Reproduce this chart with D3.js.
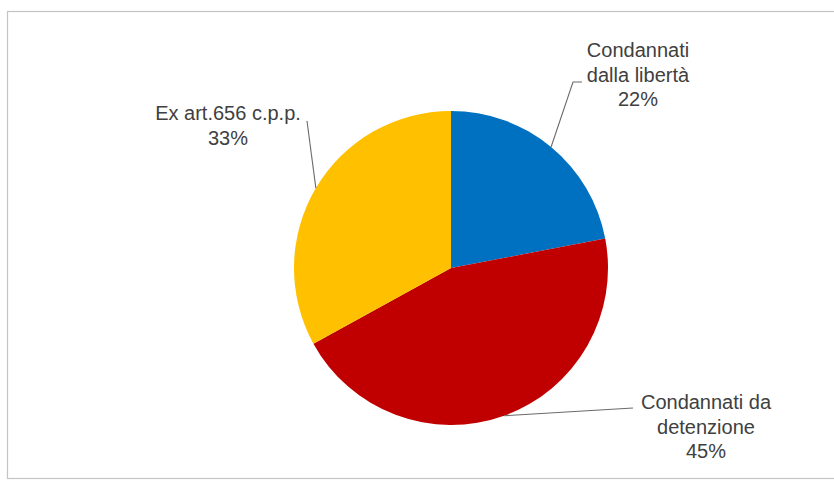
<!DOCTYPE html>
<html>
<head>
<meta charset="utf-8">
<script src="https://cdn.jsdelivr.net/npm/d3@7"></script>
<style>
  html, body { margin: 0; padding: 0; background: #fff; }
  svg { display: block; }
</style>
</head>
<body>
<svg id="chart" width="834" height="481"></svg>
<script>
// ---- data ----
const categories = ["Condannati dalla libertà", "Condannati da detenzione", "Ex art.656 c.p.p."];
const values = [22, 45, 33];
const labelLines = [["Condannati", "dalla libertà"], ["Condannati da", "detenzione"], ["Ex art.656 c.p.p."]];
const colors = ["#0070C0", "#C00000", "#FFC000"];

// ---- layout ----
const W = 834, H = 481;
const cx = 451, cy = 268, R = 157;
const fontSize = 20, lineH = 24.5;
// label anchor (center x, first-line baseline y) and leader elbow points
const labelLayout = [
  { x: 638, y: 57,  elbow: [[573, 82], [582, 82]] },
  { x: 706, y: 409, elbow: [[633, 408]] },
  { x: 228, y: 120, elbow: [[307, 121]] }
];

const svg = d3.select("#chart");

// frame
svg.append("rect")
  .attr("x", 7.5).attr("y", 11.5)
  .attr("width", 840).attr("height", 467)
  .attr("fill", "#fff")
  .attr("stroke", "#c4c4c4").attr("stroke-width", 1.2);

const pie = d3.pie().sort(null).value(d => d)(values);
const arc = d3.arc().innerRadius(0).outerRadius(R);

const g = svg.append("g").attr("transform", `translate(${cx},${cy})`);
g.selectAll("path.slice")
  .data(pie)
  .join("path")
  .attr("class", "slice")
  .attr("d", arc)
  .attr("fill", (d, i) => colors[i]);

// leader lines: start at slice mid-angle on the circumference
const fmt = d3.format(".0%");
const total = d3.sum(values);
pie.forEach((d, i) => {
  const a = (d.startAngle + d.endAngle) / 2;
  const sx = cx + R * Math.sin(a), sy = cy - R * Math.cos(a);
  const pts = [[sx, sy], ...labelLayout[i].elbow];
  svg.append("path")
    .attr("d", d3.line()(pts))
    .attr("fill", "none")
    .attr("stroke", "#6a6a6a")
    .attr("stroke-width", 1.1);

  const lines = [...labelLines[i], fmt(values[i] / total)];
  const t = svg.append("text")
    .attr("x", labelLayout[i].x)
    .attr("y", labelLayout[i].y)
    .attr("text-anchor", "middle")
    .attr("font-family", "Liberation Sans, Arial, sans-serif")
    .attr("font-size", fontSize)
    .attr("fill", "#404040");
  lines.forEach((s, k) => {
    t.append("tspan")
      .attr("x", labelLayout[i].x)
      .attr("dy", k === 0 ? 0 : lineH)
      .text(s);
  });
});
</script>
</body>
</html>
